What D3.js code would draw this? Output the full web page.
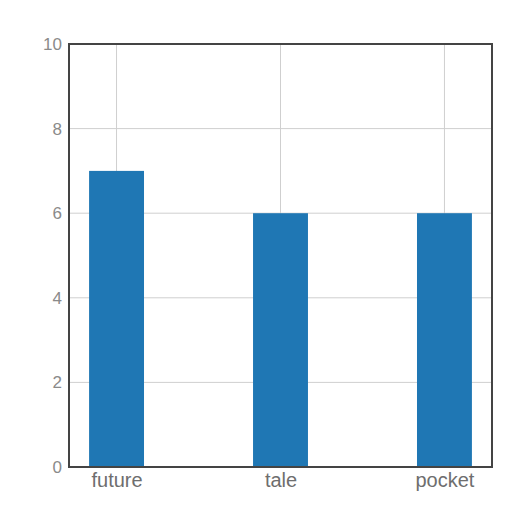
<!DOCTYPE html>
<html>
<head>
<meta charset="utf-8">
<script src="https://cdn.jsdelivr.net/npm/d3@7"></script>
<style>
  body { margin: 0; background: #fff; }
  text { font-family: "Liberation Sans", Arial, sans-serif; }
</style>
</head>
<body>
<svg id="chart" width="512" height="512"></svg>
<script>
// chart values
const categories = ["future", "tale", "pocket"];
const counts = [7, 6, 6];
const yTicks = [0, 2, 4, 6, 8, 10];

const margin = {top: 44, right: 20, bottom: 45, left: 69};
const width = 512 - margin.left - margin.right;
const height = 512 - margin.top - margin.bottom;

const svg = d3.select("#chart");
const g = svg.append("g")
    .attr("transform", `translate(${margin.left},${margin.top})`);

// categories sit at integer positions, like a plain bar plot
let x = d3.scaleLinear()
    .domain([-0.29, categories.length - 1 + 0.29])
    .range([0, width]);
let y = d3.scaleLinear()
    .domain([0, 10])
    .range([height, 0]);
const barW = 0.335;

// grid
g.append("g").selectAll("line").data(yTicks).enter().append("line")
    .attr("x1", 0).attr("x2", width)
    .attr("y1", d => y(d)).attr("y2", d => y(d))
    .attr("stroke", "#cfcfcf").attr("stroke-width", 1);
g.append("g").selectAll("line").data(categories).enter().append("line")
    .attr("x1", (d, i) => x(i)).attr("x2", (d, i) => x(i))
    .attr("y1", 0).attr("y2", height)
    .attr("stroke", "#cfcfcf").attr("stroke-width", 1);

// bars
g.append("g").selectAll("rect").data(counts).enter().append("rect")
    .attr("x", (d, i) => x(i - barW / 2))
    .attr("width", x(barW) - x(0))
    .attr("y", d => y(d))
    .attr("height", d => height - y(d))
    .attr("fill", "#1f77b4");

// frame
g.append("rect")
    .attr("width", width).attr("height", height)
    .attr("fill", "none")
    .attr("stroke", "#444").attr("stroke-width", 2);

// axes (labels only)
let yaxis = d3.axisLeft(y).tickValues(yTicks).tickSize(0).tickPadding(7);
let yaxisSel = g.append("g").call(yaxis);
yaxisSel.select(".domain").remove();
yaxisSel.selectAll("text").attr("fill", "#8a8a8a").style("font-size", "17px");

let xaxis = d3.axisBottom(x).tickValues(d3.range(categories.length))
    .tickFormat(i => categories[i]).tickSize(0).tickPadding(6);
let xaxisSel = g.append("g").attr("transform", `translate(0,${height})`).call(xaxis);
xaxisSel.select(".domain").remove();
xaxisSel.selectAll("text").attr("fill", "#6e6e6e").style("font-size", "20px");
</script>
</body>
</html>
